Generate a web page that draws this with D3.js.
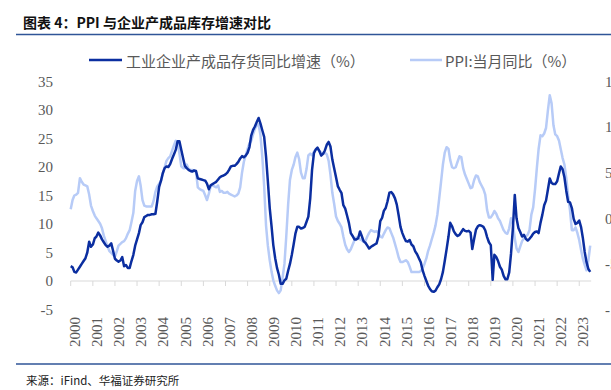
<!DOCTYPE html>
<html><head><meta charset="utf-8">
<script src="https://cdn.jsdelivr.net/npm/d3@7"></script>
<style>
html,body{margin:0;padding:0;background:#fff;}
svg{display:block;}
</style></head>
<body>
<div id="chart"></div>
<script>
// ---- Data (monthly, Jan 2000 - Jul 2023) ----
const startYear = 2000;
// 工业企业产成品存货同比增速（%） - left axis
const inventoryGrowth = [
 2.6, 2.4, 1.6, 1.5, 2.0, 2.5, 3.0, 3.5, 4.0, 5.0, 6.9, 6.0,
 6.4, 7.5, 7.8, 8.5, 8.0, 7.3, 6.8, 6.3, 6.0, 6.2, 6.6, 5.3,
 3.9, 3.6, 3.4, 3.6, 4.2, 2.6, 2.8, 2.3, 2.3, 3.5, 4.6, 6.2,
 7.3, 8.4, 9.8, 10.3, 11.2, 11.4, 11.6, 11.6, 11.7, 11.7, 11.8, 14.0,
 16.5, 17.6, 18.9, 19.8, 20.1, 20.0, 20.5, 21.4, 22.2, 23.0, 24.5, 24.5,
 23.0, 21.5, 20.2, 19.8, 19.5, 19.3, 19.2, 19.4, 19.3, 18.0, 17.9, 17.8,
 17.7, 17.6, 17.1, 16.1, 16.8, 17.0, 17.2, 17.4, 17.8, 18.2, 18.4, 18.5,
 18.7, 19.0, 19.5, 20.1, 20.2, 20.2, 20.5, 20.9, 21.5, 21.9, 21.7, 22.0,
 22.5, 23.5, 25.5, 26.5, 27.1, 27.9, 28.6, 27.6, 26.4, 25.3, 21.8, 17.5,
 12.8, 9.5, 6.3, 4.0, 2.3, 1.1, -0.5, -0.5, 0.1, 0.4, 1.8, 3.0,
 4.6, 6.5, 8.3, 9.5, 9.5, 9.2, 9.3, 9.5, 10.4, 11.3, 14.5, 19.5,
 22.4, 23.1, 23.4, 22.8, 22.0, 22.3, 22.9, 23.9, 24.4, 23.6, 21.3, 19.8,
 18.2, 16.6, 16.0, 15.4, 13.3, 12.7, 11.5, 10.2, 8.4, 7.9, 7.3, 7.3,
 7.5, 8.7, 7.9, 7.0, 6.7, 6.2, 5.7, 6.0, 6.2, 6.4, 6.6, 7.8,
 10.5, 11.1, 12.3, 12.8, 14.0, 15.5, 15.6, 15.2, 14.5, 13.4, 11.5, 9.5,
 8.4, 7.6, 7.0, 6.9, 7.2, 6.4, 6.1, 5.2, 4.7, 4.0, 3.3, 1.9,
 0.9, 0.0, -0.8, -1.4, -1.8, -1.9, -1.7, -1.1, -0.6, 0.3, 1.6, 3.5,
 5.6, 7.8, 10.2, 9.6, 8.7, 8.2, 7.9, 8.1, 8.6, 9.1, 8.8, 8.7,
 8.8, 8.5, 5.6, 7.4, 9.0, 9.6, 9.8, 9.7, 9.5, 8.9, 7.7, 6.8,
 6.3, 0.2, 4.6, 4.2, 3.5, 2.5, 2.0, 0.9, 0.3, 0.3, 1.5, 4.8,
 9.3, 15.1, 11.0, 9.3, 8.6, 7.8, 8.1, 7.4, 7.1, 7.4, 7.8, 8.3,
 8.6, 8.7, 8.4, 10.2, 11.6, 13.3, 14.1, 16.0, 18.0, 17.2, 17.0, 17.0,
 17.5, 18.9, 20.1, 19.6, 18.2, 15.8, 13.9, 13.8, 12.8, 10.9, 10.0, 10.2,
 10.6, 9.4, 7.6, 5.1, 3.3, 2.1, 1.6
];
// PPI:当月同比（%） - right axis
const ppiYoY = [
 1.0, 2.0, 2.5, 2.6, 2.8, 4.4, 4.0, 3.7, 3.6, 3.5, 2.6, 1.4,
 0.8, 0.3, 0.0, -0.3, -0.6, -1.1, -1.9, -2.5, -3.1, -3.6, -3.8, -4.0,
 -4.2, -3.6, -3.0, -2.8, -2.6, -2.5, -2.2, -1.7, -1.3, -0.4, 0.6, 3.0,
 4.1, 4.6, 3.6, 2.0, 1.4, 1.3, 1.3, 1.3, 1.3, 1.9, 2.9, 3.5,
 3.8, 4.1, 4.9, 5.6, 6.3, 6.6, 6.8, 7.4, 8.0, 8.5, 8.4, 7.1,
 5.7, 5.5, 5.5, 5.9, 5.4, 5.3, 5.3, 5.2, 5.1, 3.4, 3.2, 3.1,
 3.0, 2.5, 2.0, 2.7, 3.5, 3.6, 3.5, 3.4, 3.6, 2.9, 3.0, 2.8,
 2.8, 2.9, 2.7, 2.6, 2.5, 2.4, 2.5, 2.7, 3.4, 5.0, 6.2, 6.9,
 7.6, 8.2, 8.5, 9.2, 9.8, 10.2, 10.3, 9.1, 6.7, 3.5, -0.8, -3.0,
 -4.6, -5.9, -6.8, -7.4, -7.9, -8.2, -7.9, -6.5, -5.0, -2.0, 1.5, 4.2,
 5.3, 5.9, 6.7, 7.2, 6.5, 5.0, 4.4, 4.4, 5.4, 6.9, 7.1, 6.9,
 7.3, 7.5, 7.6, 7.4, 7.2, 7.1, 7.2, 7.0, 6.3, 4.8, 2.8, 1.6,
 0.2, -0.3, -0.6, -1.0, -2.0, -2.9, -3.4, -3.7, -3.4, -2.9, -2.4, -2.1,
 -2.2, -2.3, -2.4, -2.6, -2.5, -2.0, -1.6, -1.3, -1.4, -1.5, -1.4, -1.6,
 -2.0, -2.1, -1.7, -1.3, -1.0, -1.1, -1.6, -2.1, -2.8, -3.5, -4.3, -4.8,
 -4.8, -4.7, -4.6, -4.8, -5.3, -5.9, -5.9, -5.9, -5.9, -5.9, -5.8, -5.5,
 -5.0, -4.4, -3.6, -3.0, -2.3, -1.6, -0.8, 0.4, 2.2, 4.0, 5.9, 7.2,
 7.8, 7.6, 6.4, 5.6, 5.5, 5.6, 6.2, 6.8, 6.7, 5.5, 4.8, 4.3,
 3.8, 3.3, 3.4, 4.2, 4.7, 4.6, 4.0, 3.6, 3.2, 2.6, 0.9, 0.1,
 0.1, 0.4, 0.8, 0.5, 0.0, -0.3, -0.8, -1.3, -1.6, -1.7, -1.1, 0.0,
 -0.6, -2.2, -3.3, -3.7, -3.1, -2.5, -2.2, -2.0, -1.8, -1.3, 0.4, 1.2,
 3.2, 5.6, 7.6, 9.1, 9.0, 9.3, 9.9, 11.8, 13.5, 12.6, 10.2, 9.2,
 9.0, 8.5, 7.6, 6.6, 5.9, 4.4, 2.5, 0.9, -1.3, -1.3, -1.0, -1.6,
 -2.4, -3.5, -4.4, -5.1, -5.7, -4.6, -3.0
];
const yearLabels = ["2000","2001","2002","2003","2004","2005","2006","2007","2008","2009","2010","2011",
 "2012","2013","2014","2015","2016","2017","2018","2019","2020","2021","2022","2023"];
const leftTicks = [-5, 0, 5, 10, 15, 20, 25, 30, 35];
const rightTicks = [-10, -5, 0, 5, 10, 15];
const seriesNames = ["工业企业产成品存货同比增速（%）", "PPI:当月同比（%）"];
const titleText = "图表 4：PPI 与企业产成品库存增速对比";
const sourceText = "来源：iFind、华福证券研究所";

// ---- Drawing ----
const W = 611, H = 390;
const darkBlue = "#0b2ea0", lightBlue = "#b7cbf7", labelGray = "#595959";
const svg = d3.select("#chart").append("svg").attr("width", W).attr("height", H);
svg.append("rect").attr("width", W).attr("height", H).attr("fill", "#fff");

const dateOf = i => new Date(startYear, i, 1);
const x = d3.scaleTime().domain([dateOf(0), dateOf(282)]).range([70.7, 590.2]);
const yL = d3.scaleLinear().domain([-5, 35]).range([309.5, 81.5]);
const yR = d3.scaleLinear().domain([-10, 15]).range([309.5, 81.5]);

// title
svg.append("text").attr("x", 23).attr("y", 22).attr("dominant-baseline", "central")
  .attr("font-family", "'Noto Sans CJK SC', sans-serif").attr("font-weight", "bold")
  .attr("font-size", 14).attr("fill", "#111").text(titleText);
svg.append("line").attr("x1", 16).attr("x2", W).attr("y1", 34.5).attr("y2", 34.5)
  .attr("stroke", "#2f5597").attr("stroke-width", 1.5);
svg.append("line").attr("x1", 16).attr("x2", W).attr("y1", 364).attr("y2", 364)
  .attr("stroke", "#2f5597").attr("stroke-width", 1.5);
svg.append("text").attr("x", 26).attr("y", 379.5).attr("dominant-baseline", "central")
  .attr("font-family", "'Noto Sans CJK SC', sans-serif").attr("font-size", 11.5)
  .attr("fill", "#222").text(sourceText);

// left axis labels
svg.append("g").selectAll("text").data(leftTicks).join("text")
  .attr("x", 53).attr("y", d => yL(d)).attr("dy", "0.35em").attr("text-anchor", "end")
  .attr("font-family", "'Liberation Serif', serif").attr("font-size", 15)
  .attr("fill", labelGray).text(d => d);
// right axis labels (partly outside the frame, as in the source image)
svg.append("g").selectAll("text").data(rightTicks).join("text")
  .attr("x", 605).attr("y", d => yR(d)).attr("dy", "0.35em").attr("text-anchor", "start")
  .attr("font-family", "'Liberation Serif', serif").attr("font-size", 15)
  .attr("fill", labelGray).text(d => d);

// x axis
const y0 = yL(0);
svg.append("line").attr("x1", x(dateOf(0))).attr("x2", x(dateOf(282)) + 1)
  .attr("y1", y0).attr("y2", y0).attr("stroke", "#d9d9d9").attr("stroke-width", 1);
const yearDates = yearLabels.map(s => new Date(+s, 0, 1));
svg.append("g").selectAll("line").data(yearDates).join("line")
  .attr("x1", d => x(d)).attr("x2", d => x(d)).attr("y1", y0).attr("y2", y0 + 5)
  .attr("stroke", "#d9d9d9").attr("stroke-width", 1);
svg.append("g").selectAll("text").data(yearLabels).join("text")
  .attr("transform", (d, i) => `translate(${x(yearDates[i]) + 4},317) rotate(-90)`)
  .attr("text-anchor", "end").attr("dy", "0.35em")
  .attr("font-family", "'Liberation Serif', serif").attr("font-size", 15)
  .attr("fill", labelGray).text(d => d);

// lines
const ppiLine = d3.line().x((d, i) => x(dateOf(i))).y(d => yR(d));
const invLine = d3.line().x((d, i) => x(dateOf(i))).y(d => yL(d));
svg.append("path").datum(ppiYoY).attr("d", ppiLine).attr("fill", "none")
  .attr("stroke", lightBlue).attr("stroke-width", 2.5).attr("stroke-linejoin", "round");
svg.append("path").datum(inventoryGrowth).attr("d", invLine).attr("fill", "none")
  .attr("stroke", darkBlue).attr("stroke-width", 2.5).attr("stroke-linejoin", "round");

// legend
const legend = [
  {name: seriesNames[0], color: darkBlue, x1: 89, x2: 122, tx: 126},
  {name: seriesNames[1], color: lightBlue, x1: 410, x2: 442, tx: 445}
];
const lg = svg.append("g");
legend.forEach(l => {
  lg.append("line").attr("x1", l.x1).attr("x2", l.x2).attr("y1", 60).attr("y2", 60)
    .attr("stroke", l.color).attr("stroke-width", 2.5);
  lg.append("text").attr("x", l.tx).attr("y", 60).attr("dominant-baseline", "central")
    .attr("font-family", "'Noto Sans CJK SC', sans-serif").attr("font-size", 15)
    .attr("fill", labelGray).text(l.name);
});
</script>
</body></html>
